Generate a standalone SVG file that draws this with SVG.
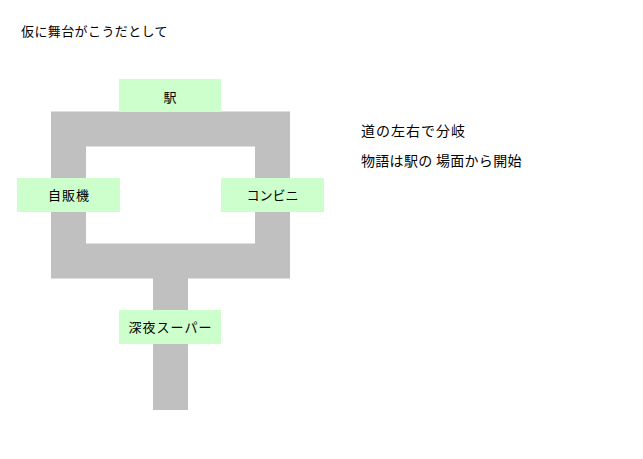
<svg xmlns="http://www.w3.org/2000/svg" width="643" height="459" viewBox="0 0 643 459">
<style>
text{font-family:"Noto Sans CJK JP","Noto Sans",sans-serif;font-size:13px;fill:#000}
.box{fill:#ccffcc}
.road{fill:none;stroke:#c0c0c0;stroke-width:35;stroke-linejoin:miter;stroke-linecap:butt}
.c{text-anchor:middle}
.note{font-size:14px}
</style>
<rect width="643" height="459" fill="#fff"/>
<text x="21" y="36" letter-spacing="0.4">仮に舞台がこうだとして</text>
<g id="connectors">
<rect class="road" x="68.5" y="129" width="204" height="132"/>
<line class="road" x1="170.5" y1="278" x2="170.5" y2="410"/>
</g>
<g id="station"><rect class="box" x="119" y="79" width="102" height="33"/><text class="c" x="170" y="102">駅</text></g>
<g id="vending"><rect class="box" x="17" y="178" width="103" height="34"/><text class="c" x="69" y="200" letter-spacing="1">自販機</text></g>
<g id="konbini"><rect class="box" x="221" y="178" width="103" height="34"/><text class="c" x="272.5" y="200">コンビニ</text></g>
<g id="super"><rect class="box" x="119" y="310" width="102" height="34"/><text class="c" x="170.5" y="332" letter-spacing="1">深夜スーパー</text></g>
<text class="note" x="361" y="136" letter-spacing="1">道の左右で分岐</text>
<text class="note" x="361" y="166" letter-spacing="0.3">物語は駅の 場面から開始</text>
</svg>
